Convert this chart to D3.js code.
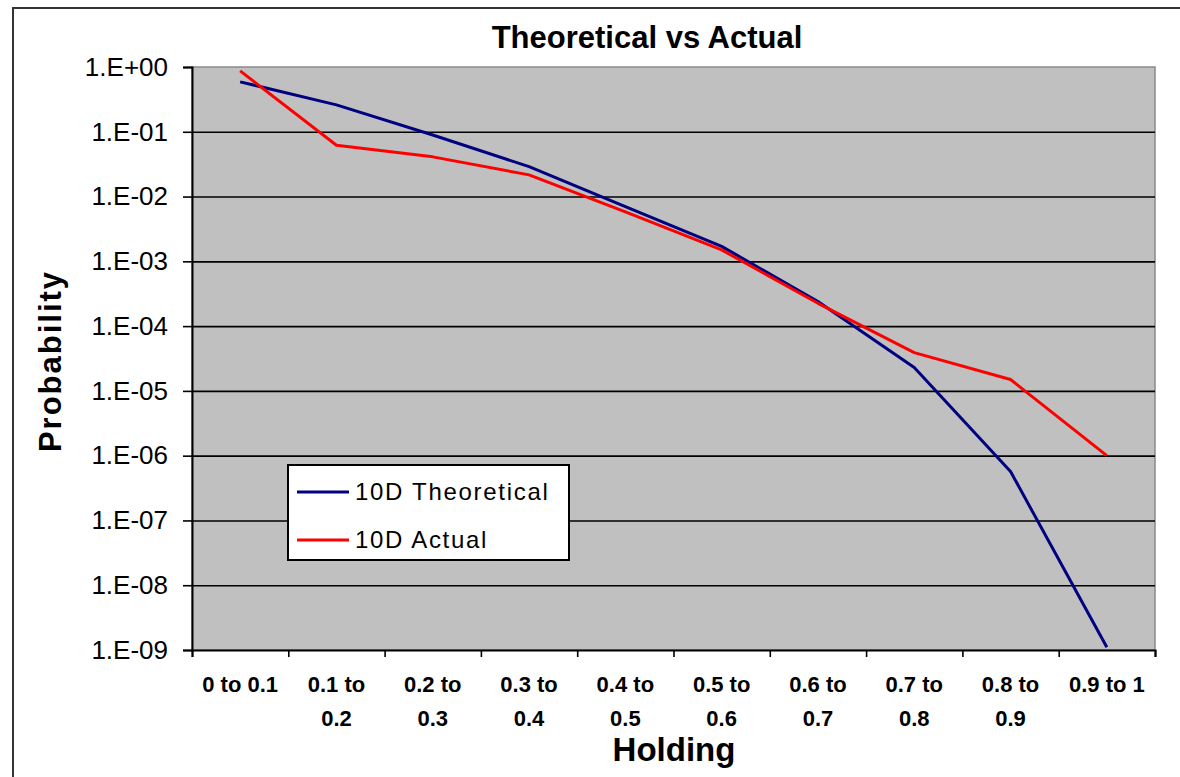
<!DOCTYPE html>
<html lang="en">
<head>
<meta charset="utf-8" />
<title>Theoretical vs Actual</title>
<script src="https://cdnjs.cloudflare.com/ajax/libs/d3/7.8.5/d3.min.js"></script>
<style>
    body {
        margin: 0;
        background: #fff;
        overflow: hidden;
    }
    svg {
        display: block;
        font-family: "Liberation Sans", Arial, sans-serif;
    }
    .grid line {
        stroke: #000;
        stroke-width: 1.6;
    }
    .yaxis text {
        font-size: 26px;
        fill: #000;
    }
    .xaxis text {
        font-size: 22px;
        font-weight: bold;
        fill: #000;
    }
</style>
</head>
<body>
<div id="chart"></div>

<script>
    const categories = ['0 to 0.1', '0.1 to 0.2', '0.2 to 0.3', '0.3 to 0.4', '0.4 to 0.5',
        '0.5 to 0.6', '0.6 to 0.7', '0.7 to 0.8', '0.8 to 0.9', '0.9 to 1']
    const theoretical = [0.59, 0.26, 0.089, 0.029, 0.0070, 0.0017, 0.00024, 2.3e-5, 5.7e-7, 1.1e-9]
    const actual = [0.87, 0.062, 0.041, 0.0216, 0.0058, 0.0015, 0.000225, 3.9e-5, 1.5e-5, 1.0e-6]
    const yTicks = [1, 1e-1, 1e-2, 1e-3, 1e-4, 1e-5, 1e-6, 1e-7, 1e-8, 1e-9]

    const series = [
        { name: '10D Theoretical', values: theoretical, color: '#000080' },
        { name: '10D Actual', values: actual, color: '#ff0000' },
    ]

    const width = 1180
    const height = 777
    const plot = { left: 192, top: 67, right: 1155, bottom: 650 }

    const svg = d3.select('#chart')
        .append('svg')
        .attr('width', width)
        .attr('height', height)

    // outer chart frame, runs off the right and bottom edges
    svg.append('rect')
        .attr('x', 13)
        .attr('y', 8)
        .attr('width', width + 100)
        .attr('height', height + 100)
        .attr('fill', '#fff')
        .attr('stroke', '#333')
        .attr('stroke-width', 2)

    const x = d3.scaleBand()
        .domain(categories)
        .range([plot.left, plot.right])
    const xEdge = d3.scaleLinear()
        .domain([0, categories.length])
        .range([plot.left, plot.right])
    const y = d3.scaleLog()
        .domain([1e-9, 1])
        .range([plot.bottom, plot.top])

    svg.append('rect')
        .attr('x', plot.left)
        .attr('y', plot.top)
        .attr('width', plot.right - plot.left)
        .attr('height', plot.bottom - plot.top)
        .attr('fill', '#c0c0c0')
        .attr('stroke', '#8a8a8a')
        .attr('stroke-width', 1.5)

    svg.append('g')
        .attr('class', 'grid')
        .attr('transform', 'translate(' + plot.left + ',0)')
        .call(d3.axisLeft(y)
            .tickValues(yTicks.slice(1, -1))
            .tickSize(-(plot.right - plot.left))
            .tickFormat(''))
        .call(g => g.select('.domain').remove())

    const fmt = function(d) {
        const e = Math.round(Math.log10(d))
        const s = e < 0 ? '-' : '+'
        return '1.E' + s + String(Math.abs(e)).padStart(2, '0')
    }

    svg.append('g')
        .attr('class', 'yaxis')
        .attr('transform', 'translate(' + plot.left + ',0)')
        .call(d3.axisLeft(y)
            .tickValues(yTicks)
            .tickSize(9)
            .tickPadding(15)
            .tickFormat(fmt))
        .call(g => g.selectAll('line').attr('stroke', '#000').attr('stroke-width', 1.6))
        .call(g => g.select('.domain').attr('stroke', '#000').attr('stroke-width', 2))

    // tick marks sit on the category boundaries
    svg.append('g')
        .attr('transform', 'translate(0,' + plot.bottom + ')')
        .call(d3.axisBottom(xEdge)
            .ticks(categories.length)
            .tickSize(7)
            .tickFormat(''))
        .call(g => g.selectAll('line').attr('stroke', '#000').attr('stroke-width', 1.6))
        .call(g => g.select('.domain').attr('stroke', '#000').attr('stroke-width', 2))

    const xAxis = svg.append('g')
        .attr('class', 'xaxis')
        .attr('transform', 'translate(0,' + plot.bottom + ')')
        .call(d3.axisBottom(x).tickSize(0).tickPadding(26))
    xAxis.select('.domain').remove()
    xAxis.selectAll('.tick text')
        .each(function(d) {
            const t = d3.select(this)
            t.text(null)
            let lines = [d]
            if (d.length > 8) {
                const i = d.lastIndexOf(' ')
                lines = [d.slice(0, i), d.slice(i + 1)]
            }
            lines.forEach(function(l, i) {
                t.append('tspan')
                    .attr('x', 0)
                    .attr('dy', i === 0 ? '0.71em' : '1.55em')
                    .text(l)
            })
        })

    const line = d3.line()
        .x((d, i) => x(categories[i]) + x.bandwidth() / 2)
        .y(d => y(d))

    svg.append('g')
        .selectAll('path')
        .data(series)
        .join('path')
            .attr('d', d => line(d.values))
            .attr('fill', 'none')
            .attr('stroke', d => d.color)
            .attr('stroke-width', 3)
            .attr('stroke-linejoin', 'round')

    // titles
    svg.append('text')
        .attr('x', 647)
        .attr('y', 48)
        .attr('text-anchor', 'middle')
        .attr('font-size', 31)
        .attr('font-weight', 'bold')
        .text('Theoretical vs Actual')

    svg.append('text')
        .attr('x', 674)
        .attr('y', 761)
        .attr('text-anchor', 'middle')
        .attr('font-size', 33)
        .attr('font-weight', 'bold')
        .text('Holding')

    svg.append('text')
        .attr('transform', 'translate(61,361) rotate(-90)')
        .attr('text-anchor', 'middle')
        .attr('font-size', 31)
        .attr('font-weight', 'bold')
        .attr('letter-spacing', 2)
        .text('Probability')

    // legend
    const legend = svg.append('g')
        .attr('transform', 'translate(288,465)')
    legend.append('rect')
        .attr('width', 281)
        .attr('height', 95)
        .attr('fill', '#fff')
        .attr('stroke', '#000')
        .attr('stroke-width', 2)
    const item = legend.selectAll('.item')
        .data(series)
        .join('g')
            .attr('class', 'item')
            .attr('transform', (d, i) => 'translate(0,' + (27 + i * 48) + ')')
    item.append('line')
        .attr('x1', 9)
        .attr('x2', 61)
        .attr('stroke', d => d.color)
        .attr('stroke-width', 3)
    item.append('text')
        .attr('x', 67)
        .attr('y', 8)
        .attr('font-size', 24)
        .attr('letter-spacing', 1.7)
        .text(d => d.name)
</script>
</body>
</html>
